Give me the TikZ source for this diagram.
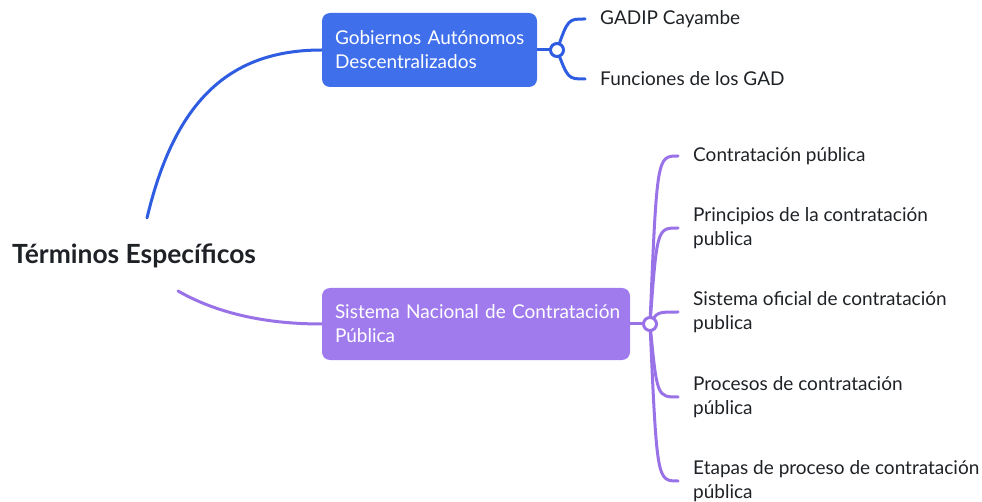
\documentclass[tikz,border=0pt]{standalone}
\usepackage{fontspec}
\setmainfont{Lato}
\usetikzlibrary{calc,backgrounds}
\definecolor{bluebox}{HTML}{3F6FEA}
\definecolor{blueline}{HTML}{2F5DE2}
\definecolor{purplebox}{HTML}{A07BEE}
\definecolor{purpleline}{HTML}{9A72E8}
\definecolor{txt}{HTML}{1E2226}
\begin{document}
\begin{tikzpicture}[x=1pt,y=-1pt,
  mainbox/.style={rounded corners=8pt, align=left, inner xsep=13pt, inner ysep=0pt,
    text=white, font=\fontsize{19}{24}\selectfont},
  hub/.style={circle, draw, line width=3pt, fill=white, minimum size=13pt, inner sep=0pt},
  leaf/.style={anchor=west, align=left, inner xsep=15pt, inner ysep=0pt, text=txt,
    font=\fontsize{19}{24}\selectfont},
  conn/.style={line width=3pt, line cap=round}
]
\useasboundingbox (0,0) rectangle (982,502);
% root
\node[anchor=west, inner sep=0pt, text=txt, font=\bfseries\fontsize{26.4}{30}\selectfont] (root) at (12,256) {Términos Específicos};
\coordinate (rtop) at (147,218);
\coordinate (rbot) at (178,291);
% blue branch
\node[mainbox, fill=bluebox, minimum width=215pt, minimum height=74pt, text width=189pt] (gad) at (429.5,50) {\mbox{Gobiernos Autónomos}\\\mbox{Descentralizados}};
\node[hub, draw=blueline] (hb) at (557,50) {};
\node[leaf] (l1) at (585,19) {GADIP Cayambe};
\node[leaf] (l2) at (585,79) {Funciones de los GAD};
% purple branch
\node[mainbox, fill=purplebox, minimum width=308pt, minimum height=72pt, text width=282pt] (sn) at (476,324) {\mbox{Sistema Nacional de Contratación}\\\mbox{Pública}};
\node[hub, draw=purpleline] (hp) at (650,324) {};
\node[leaf] (p1) at (678,156) {Contratación pública};
\node[leaf] (p2) at (678,228) {Principios de la contratación\\publica};
\node[leaf] (p3) at (678,312) {Sistema oficial de contratación\\publica};
\node[leaf] (p4) at (678,397) {Procesos de contratación\\pública};
\node[leaf] (p5) at (678,481) {Etapas de proceso de contratación\\pública};
\begin{scope}[on background layer]
  \draw[conn, blueline] (rtop) .. controls (175,100) and (230,50) .. (gad.west);
  \draw[conn, blueline] (gad.east) -- (hb.center);
  \foreach \t in {l1,l2}
    \draw[conn, blueline] (hb.center) .. controls ($(\t.west)+(-17,0)$) and ($(\t.west)+(-17,0)$) .. (\t.west);
  \draw[conn, purpleline] (rbot) .. controls (220,315) and (270,324) .. (sn.west);
  \draw[conn, purpleline] (sn.east) -- (hp.center);
  \foreach \t in {p1,p2,p3,p4,p5}
    \draw[conn, purpleline] (hp.center) .. controls ($(\t.west)+(-21,0)$) and ($(\t.west)+(-21,0)$) .. (\t.west);
\end{scope}
\end{tikzpicture}
\end{document}
